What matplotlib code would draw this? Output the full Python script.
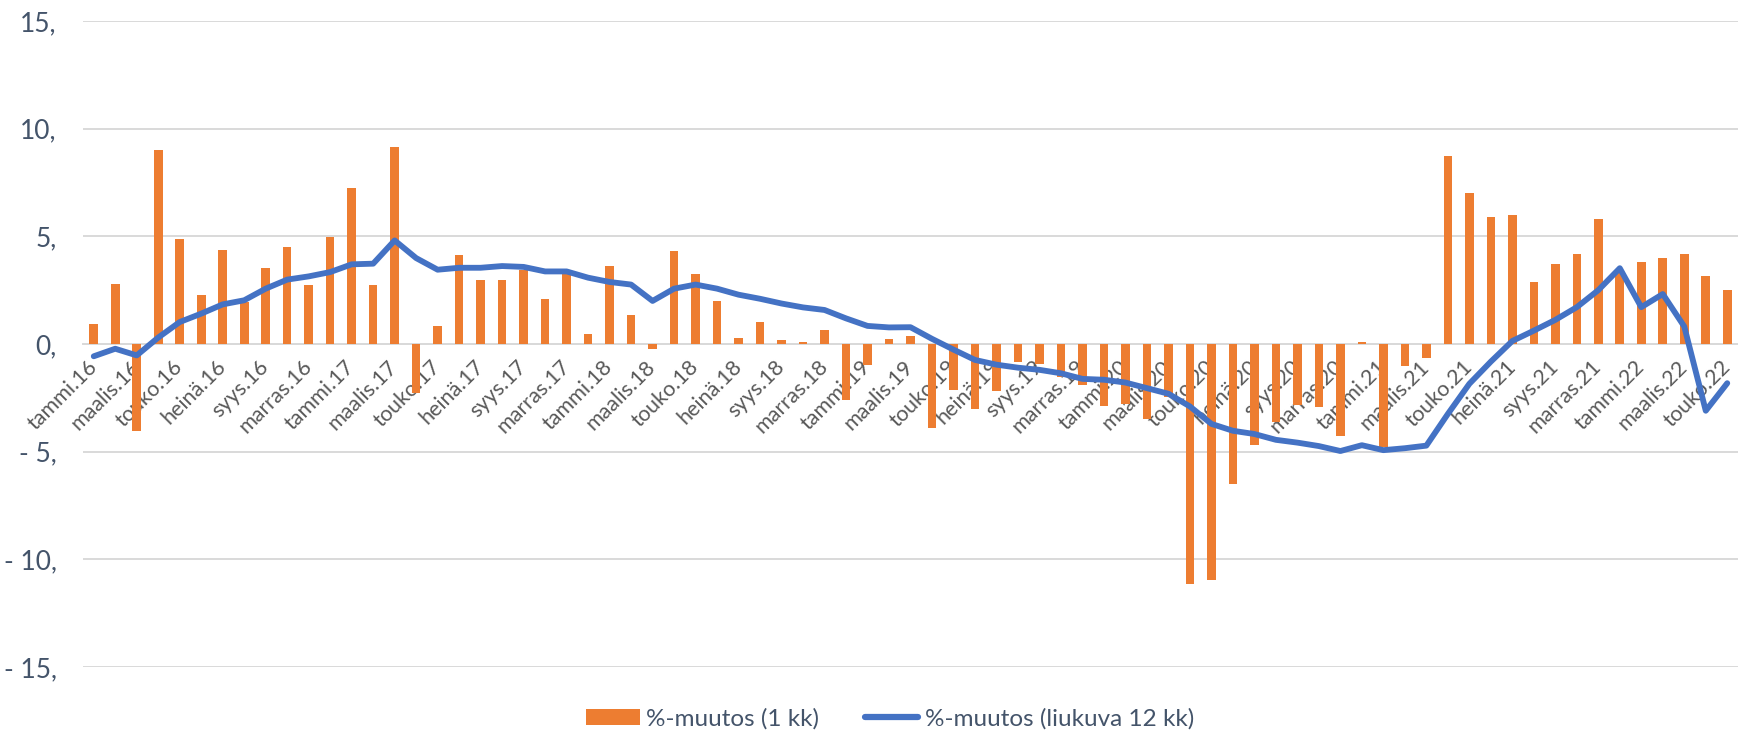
import matplotlib
matplotlib.use("Agg")
import matplotlib.pyplot as plt
from matplotlib.patches import Patch
from matplotlib.lines import Line2D

plt.rcParams['font.family'] = ['Lato', 'DejaVu Sans']

months = ["tammi", "helmi", "maalis", "huhti", "touko", "kesä",
          "heinä", "elo", "syys", "loka", "marras", "joulu"]
years = ["16", "17", "18", "19", "20", "21", "22"]
categories = [f"{m}.{y}" for y in years for m in months][:77]  # tammi.16 .. touko.22

monthly_change = [
    0.91, 2.77, -4.06, 9.02, 4.86, 2.29, 4.38, 1.95, 3.51, 4.49, 2.76, 4.98,
    7.24, 2.72, 9.13, -2.28, 0.82, 4.15, 2.99, 2.99, 3.42, 2.10, 3.25, 0.48,
    3.64, 1.33, -0.22, 4.30, 3.24, 1.98, 0.29, 1.04, 0.20, 0.08, 0.66, -2.60,
    -0.97, 0.22, 0.35, -3.90, -2.13, -3.03, -2.16, -0.85, -0.93, -1.55, -1.92, -2.87,
    -2.79, -3.50, -2.45, -11.13, -10.95, -6.48, -4.70, -3.64, -2.83, -2.92, -4.27, 0.09,
    -4.78, -1.00, -0.64, 8.72, 7.01, 5.90, 6.00, 2.89, 3.70, 4.19, 5.79, 3.40,
    3.80, 4.00, 4.19, 3.18, 2.49,
]

rolling_12m = [
    -0.57, -0.22, -0.53, 0.30, 1.02, 1.41, 1.84, 2.03, 2.57, 2.99, 3.14, 3.34,
    3.70, 3.73, 4.81, 3.99, 3.45, 3.54, 3.54, 3.62, 3.58, 3.37, 3.37, 3.08,
    2.88, 2.76, 2.00, 2.57, 2.76, 2.57, 2.29, 2.10, 1.88, 1.70, 1.58, 1.19,
    0.84, 0.77, 0.78, 0.24, -0.26, -0.74, -0.96, -1.10, -1.20, -1.36, -1.62, -1.66,
    -1.79, -2.05, -2.31, -2.90, -3.71, -4.03, -4.18, -4.45, -4.58, -4.74, -4.97, -4.70,
    -4.93, -4.84, -4.72, -3.25, -1.85, -0.82, 0.14, 0.62, 1.12, 1.71, 2.50, 3.52,
    1.71, 2.32, 0.81, -3.10, -1.82,
]

y_ticks = [-15, -10, -5, 0, 5, 10, 15]
y_tick_labels = ["- 15,", "- 10,", "- 5,", "0,", "5,", "10,", "15,"]

series_names = ["%-muutos (1 kk)", "%-muutos (liukuva 12 kk)"]

BAR_COLOR = "#ED7D31"
LINE_COLOR = "#4472C4"
GRID_COLOR = "#D9D9D9"
YLAB_COLOR = "#44546A"
XLAB_COLOR = "#595959"

fig = plt.figure(figsize=(17.38, 7.32), dpi=100)
ax = fig.add_axes([83 / 1738, 1 - 667 / 732, 1 - 83 / 1738, (667 - 21) / 732])

x = list(range(len(categories)))
ax.bar(x, monthly_change, width=0.40, color=BAR_COLOR, zorder=2)
ax.plot(x, rolling_12m, color=LINE_COLOR, lw=4.2, zorder=3,
        solid_joinstyle='round', solid_capstyle='round')

ax.set_xlim(-0.5, len(categories) - 0.5)
ax.set_ylim(-15, 15)
ax.set_yticks(y_ticks)
ax.set_yticklabels(y_tick_labels)
ax.yaxis.grid(True, color=GRID_COLOR, lw=1.4, zorder=0)
ax.set_axisbelow(True)

for s in ['top', 'right', 'left']:
    ax.spines[s].set_visible(False)
ax.spines['bottom'].set_position(('data', 0))
ax.spines['bottom'].set_color(GRID_COLOR)
ax.spines['bottom'].set_linewidth(1.4)
ax.spines['bottom'].set_zorder(1)

ax.set_xticks(x[::2])
ax.set_xticklabels(categories[::2], rotation=45, ha='right', va='center',
                   rotation_mode='anchor')
ax.tick_params(axis='x', length=0, pad=14, labelsize=15.5, labelcolor=XLAB_COLOR)
ax.tick_params(axis='y', length=0, pad=19, labelsize=19, labelcolor=YLAB_COLOR)

handles = [Patch(facecolor=BAR_COLOR, edgecolor='none'),
           Line2D([0], [0], color=LINE_COLOR, lw=4.5, solid_capstyle='round')]
leg = fig.legend(handles, series_names, loc='center', ncol=2, frameon=False,
                 bbox_to_anchor=(890 / 1738, 1 - 719 / 732), fontsize=17.5,
                 handlelength=2.2, handleheight=0.65, handletextpad=0.25,
                 columnspacing=1.9)
for t in leg.get_texts():
    t.set_color(YLAB_COLOR)

fig.savefig("out.png", dpi=100)
